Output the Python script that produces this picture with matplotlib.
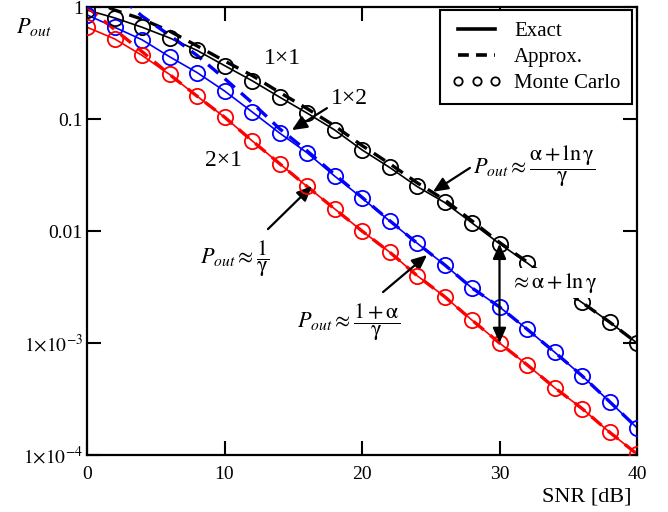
import matplotlib
matplotlib.use('Agg')
import matplotlib.pyplot as plt
from matplotlib.lines import Line2D

plt.rcParams['font.family'] = ['Liberation Serif', 'DejaVu Serif']
plt.rcParams['mathtext.fontset'] = 'stix'

# data (SNR in dB, outage probability)
snr = [0, 2, 4, 6, 8, 10, 12, 14, 16, 18, 20, 22, 24, 26, 28, 30, 32, 34, 36, 38, 40]

exact_11 = [0.94, 0.80, 0.66, 0.53, 0.41, 0.30, 0.22, 0.157, 0.113, 0.080, 0.053,
            0.037, 0.025, 0.018, 0.0118, 0.0077, 0.0052, 0.0034, 0.0023, 0.00154, 0.0010]
approx_11 = [1.2, 0.94, 0.78, 0.61, 0.45, 0.33, 0.245, 0.173, 0.124, 0.087, 0.058,
             0.040, 0.027, 0.019, 0.0123, 0.0079, 0.0053, 0.0034, 0.0023, 0.00154, 0.0010]

exact_12 = [0.85, 0.66, 0.51, 0.36, 0.26, 0.178, 0.116, 0.075, 0.050, 0.031, 0.0197,
            0.0123, 0.0078, 0.0050, 0.0031, 0.0021, 0.00133, 0.00083, 0.00051, 0.00030, 0.000175]
approx_12 = [2.0, 1.35, 0.83, 0.56, 0.37, 0.23, 0.14, 0.082, 0.052, 0.032, 0.0200,
             0.0124, 0.0078, 0.0050, 0.0031, 0.0021, 0.00133, 0.00083, 0.00051, 0.00030, 0.000175]

exact_21 = [0.66, 0.52, 0.37, 0.25, 0.16, 0.104, 0.064, 0.040, 0.025, 0.0158, 0.0100,
            0.0065, 0.0040, 0.0026, 0.0016, 0.0010, 0.00064, 0.00040, 0.00026, 0.00016, 0.000102]
approx_21 = [1.0, 0.63, 0.40, 0.25, 0.16, 0.104, 0.064, 0.040, 0.025, 0.0158, 0.0100,
             0.0065, 0.0040, 0.0026, 0.0016, 0.0010, 0.00064, 0.00040, 0.00026, 0.00016, 0.000102]

# Monte Carlo points sit on the exact curves
mc_11 = exact_11
mc_12 = exact_12
mc_21 = exact_21

yticks = [1e-4, 1e-3, 1e-2, 1e-1, 1]
yticklabels = [r'$1{\times}10^{-4}$', r'$1{\times}10^{-3}$', '0.01', '0.1', '1']
xticks = [0, 10, 20, 30, 40]

fig = plt.figure(figsize=(6.68, 5.12), dpi=100)
ax = fig.add_axes([87 / 668, 1 - 455 / 512, 550 / 668, 448 / 512])

series = [(exact_11, approx_11, mc_11, 'black'),
          (exact_12, approx_12, mc_12, '#0000ff'),
          (exact_21, approx_21, mc_21, '#ff0000')]
for ex, ap, mc, c in series:
    ax.plot(snr, ex, color=c, lw=1.2, zorder=2)
    ax.plot(snr, ap, color=c, lw=2.4, dashes=(4, 2.5), zorder=3)
    ax.plot(snr, mc, ls='none', marker='o', ms=11, mfc='none', mec=c, mew=1.3, zorder=4)

ax.set_yscale('log')
ax.set_xlim(0, 40)
ax.set_ylim(1e-4, 1)
ax.set_yticks(yticks)
ax.set_yticklabels(yticklabels)
ax.set_xticks(xticks)
ax.minorticks_off()
ax.tick_params(direction='in', length=10, width=1.5, labelsize=14,
               top=True, right=True)
ax.tick_params(axis='y', pad=3)
ax.tick_params(axis='x', pad=8)
for s in ax.spines.values():
    s.set_linewidth(1.6)

handles = [Line2D([], [], color='black', lw=2.6),
           Line2D([], [], color='black', lw=2.6, dashes=(3, 2)),
           Line2D([], [], ls='none', marker='o', ms=6, mfc='none', mec='black', mew=1.3)]
leg = ax.legend(handles, ['Exact', 'Approx.', 'Monte Carlo'], loc='upper right',
                bbox_to_anchor=(0.991, 0.993), borderaxespad=0, fontsize=15,
                numpoints=3, handlelength=2.4, handletextpad=0.6, labelspacing=0.3,
                fancybox=False, framealpha=1, edgecolor='black', borderpad=0.55)
leg.get_frame().set_linewidth(1.5)

arw = dict(arrowstyle='-|>,head_length=0.45,head_width=0.2', color='black',
           lw=1.6, shrinkA=0, shrinkB=0, mutation_scale=20)

g = r'\mathrm{\gamma}'
a = r'\mathrm{\alpha}'

ax.text(14.2, 0.35, '1×1', fontsize=17, ha='center', va='center')
ax.text(9.96, 0.043, '2×1', fontsize=17, ha='center', va='center')
ax.text(19.05, 0.151, '1×2', fontsize=17, ha='center', va='center')
ax.annotate('', xy=(14.9, 0.0796), xytext=(17.45, 0.125), arrowprops=arw)

ax.text(28.07, 0.038, r'$P_{out}\approx\dfrac{%s+\ln %s}{%s}$' % (a, g, g),
        fontsize=16, ha='left', va='center')
ax.annotate('', xy=(25.16, 0.0224), xytext=(27.85, 0.0366), arrowprops=arw)

ax.text(8.22, 0.0057, r'$P_{out}\approx\dfrac{1}{%s}$' % g,
        fontsize=16, ha='left', va='center')
ax.annotate('', xy=(16.36, 0.0252), xytext=(13.16, 0.0104), arrowprops=arw)

ax.text(15.27, 0.00154, r'$P_{out}\approx\dfrac{1+%s}{%s}$' % (a, g),
        fontsize=16, ha='left', va='center')
ax.annotate('', xy=(24.73, 0.0061), xytext=(21.53, 0.00285), arrowprops=arw)

ax.annotate('', xy=(30, 0.0077), xytext=(30, 0.001),
            arrowprops=dict(arrowstyle='<|-|>,head_length=0.45,head_width=0.2',
                            color='black', lw=1.6, shrinkA=0, shrinkB=0,
                            mutation_scale=20), zorder=5)
ax.text(30.76, 0.00343, r'$\approx %s+\ln %s$' % (a, g), fontsize=16, ha='left',
        va='center', zorder=6, bbox=dict(fc='white', ec='none', pad=2))

fig.text(16 / 668, 1 - 27 / 512, r'$P_{out}$', fontsize=16, ha='left', va='center')
fig.text(632 / 668, 1 - 497 / 512, 'SNR [dB]', fontsize=16, ha='right', va='center')

fig.savefig('out.png', dpi=100)
